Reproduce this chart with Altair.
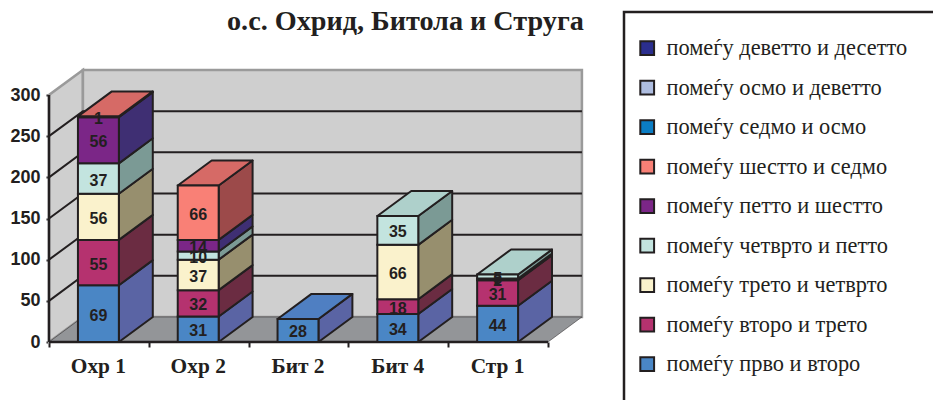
import altair as alt
import pandas as pd

# ---- values ----
categories = ["Охр 1", "Охр 2", "Бит 2", "Бит 4", "Стр 1"]
series_names = [
    "помеѓу прво и второ",
    "помеѓу второ и трето",
    "помеѓу трето и четврто",
    "помеѓу четврто и петто",
    "помеѓу петто и шестто",
    "помеѓу шестто и седмо",
    "помеѓу седмо и осмо",
    "помеѓу осмо и деветто",
    "помеѓу деветто и десетто",
]
s1 = [69, 31, 28, 34, 44]
s2 = [55, 32, 0, 18, 31]
s3 = [56, 37, 0, 66, 2]
s4 = [37, 10, 0, 35, 5]
s5 = [56, 14, 0, 0, 0]
s6 = [1, 66, 0, 0, 0]
s7 = [0, 0, 0, 0, 0]
s8 = [0, 0, 0, 0, 0]
s9 = [0, 0, 0, 0, 0]
all_series = [s1, s2, s3, s4, s5, s6, s7, s8, s9]
y_ticks = [0, 50, 100, 150, 200, 250, 300]

# ---- styles ----
front_colors = ["#4a86c5", "#b5326f", "#faf2cc", "#c3e4df", "#7b2687", "#f98076", "#0b7dc4", "#aebde0", "#2b2e8e"]
side_colors = ["#5a64a4", "#6b2c42", "#978f6e", "#7b9a95", "#3f2f73", "#9c4a4a", "#0a5c90", "#7f8ba6", "#1f2168"]
top_colors = ["#4f7fc2", "#93305f", "#d0caa8", "#aed0cb", "#66307a", "#d66a66", "#0a6aa8", "#95a3c4", "#25277a"]
INK = "#231f20"
WALL = "#cfcfcf"
WALL_EDGE = "#9a9a9a"
FLOOR = "#939598"
SERIF = "Liberation Serif"
SANS = "Liberation Sans"

# ---- geometry of the fake 3D box, in scale units ----
W, H = 925, 392
X_UNIT = 99.8            # px per category
Y_UNIT = 247 / 300       # px per value
ORIGIN_X, ORIGIN_Y = 41, 334
DX = 0.34                # depth in category units
DY = 30.4                # depth in value units
BAR = 0.41
n = len(categories)

x_scale = alt.Scale(domain=[-ORIGIN_X / X_UNIT, (W - ORIGIN_X) / X_UNIT], nice=False, zero=False)
y_scale = alt.Scale(domain=[-(H - ORIGIN_Y) / Y_UNIT, ORIGIN_Y / Y_UNIT], nice=False, zero=False)


def para(group, fill, x0, low0, x1, low1, hi0, hi1):
    """Two-point band: (x0, low0..hi0) to (x1, low1..hi1)."""
    return [
        dict(g=group, fill=fill, x=x0, y=low0, y2=hi0),
        dict(g=group, fill=fill, x=x1, y=low1, y2=hi1),
    ]


walls, fronts, faces, labels = [], [], [], []
walls += para("left", WALL, 0, 0, DX, DY, y_ticks[-1], y_ticks[-1] + DY)
walls += para("back", WALL, DX, DY, n + DX, DY, y_ticks[-1] + DY, y_ticks[-1] + DY)

floor = para("floor", FLOOR, 0, 0, DX, DY, 0, DY)[:1]
floor += [
    dict(g="floor", fill=FLOOR, x=DX, y=0, y2=DY),
    dict(g="floor", fill=FLOOR, x=n, y=0, y2=DY),
    dict(g="floor", fill=FLOOR, x=n + DX, y=DY, y2=DY),
]

grid = []
for v in y_ticks[1:-1]:
    grid.append(dict(g=f"s{v}", x=0, y=v))
    grid.append(dict(g=f"s{v}", x=DX, y=v + DY))
    grid.append(dict(g=f"s{v}", x=n + DX, y=v + DY))

for i, cat in enumerate(categories):
    base = 0
    xl = i + 0.5 - BAR / 2 - 0.005
    xr = xl + BAR
    top_idx = None
    for k, vals in enumerate(all_series):
        v = vals[i]
        if v == 0:
            continue
        top_idx = k
        fronts.append(dict(series=series_names[k], x=xl, x2=xr, y=base, y2=base + v))
        faces += para(f"side{i}-{k}", side_colors[k], xr, base, xr + DX, base + DY, base + v, base + v + DY)
        labels.append(dict(x=(xl + xr) / 2, y=base + v / 2, text=str(v)))
        base += v
    g = f"top{i}"
    c = top_colors[top_idx]
    faces += [
        dict(g=g, fill=c, x=xl, y=base, y2=base),
        dict(g=g, fill=c, x=xl + DX, y=base, y2=base + DY),
        dict(g=g, fill=c, x=xr, y=base, y2=base + DY),
        dict(g=g, fill=c, x=xr + DX, y=base + DY, y2=base + DY),
    ]

labels_x = "[" + ",".join(f"'{c}'" for c in categories) + ",''][datum.value]"
x_axis = alt.Axis(
    values=list(range(n + 1)), labelExpr=labels_x, offset=-(H - ORIGIN_Y), domain=False, grid=False,
    tickSize=5, tickWidth=2, tickColor=INK, labelFont=SERIF, labelFontWeight="bold", labelFontSize=21.4,
    labelColor=INK, labelOffset=X_UNIT / 2 - 1, labelPadding=8, labelOverlap=False, labelFlush=False,
)
y_axis = alt.Axis(
    values=y_ticks, orient="left", offset=-ORIGIN_X, domain=False, grid=False, tickSize=3, tickWidth=2,
    tickColor=INK, labelFont=SANS, labelFontWeight="bold", labelFontSize=18, labelColor=INK,
    labelPadding=6, labelOverlap=False, labelFlush=False,
)
X = alt.X("x:Q", scale=x_scale, axis=x_axis, title=None)
Y = alt.Y("y:Q", scale=y_scale, axis=y_axis, title=None, stack=None)


def band(rows, **kw):
    return alt.Chart(pd.DataFrame(rows)).mark_area(**kw).encode(
        x=X, y=Y, y2="y2:Q", detail="g:N", fill=alt.Fill("fill:N", scale=None)
    )


wall_layer = band(walls, stroke=WALL_EDGE, strokeWidth=2.5)
floor_layer = band(floor, stroke=INK, strokeWidth=0.5)
grid_layer = alt.Chart(pd.DataFrame(grid)).mark_line(color=INK, strokeWidth=2).encode(x=X, y=Y, detail="g:N")
face_layer = band(faces, stroke=INK, strokeWidth=2, strokeJoin="round")

front_axis = alt.Chart(pd.DataFrame({
    "x": [0, 0, 0, n], "y": [0, y_ticks[-1], 0, 0], "g": ["a", "a", "b", "b"],
})).mark_line(color=INK, strokeWidth=2.5).encode(x=X, y=Y, detail="g:N")

front_layer = alt.Chart(pd.DataFrame(fronts)).mark_rect(stroke=INK, strokeWidth=2).encode(
    x=X, x2="x2:Q", y=Y, y2="y2:Q",
    color=alt.Color(
        "series:N",
        scale=alt.Scale(domain=series_names, range=front_colors),
        sort=series_names[::-1],
        legend=alt.Legend(
            title=None, orient="none", legendX=628, legendY=29, symbolType="square", symbolSize=190,
            symbolStrokeColor=INK, symbolStrokeWidth=2, symbolOpacity=1, labelFont=SERIF, labelFontSize=22.4,
            labelColor=INK, labelLimit=320, rowPadding=16.5, columns=1, labelOffset=8,
            values=series_names[::-1],
        ),
    ),
)
label_layer = alt.Chart(pd.DataFrame(labels)).mark_text(
    font=SANS, fontSize=16, fontWeight="bold", color=INK, baseline="middle", dy=2
).encode(x=X, y=Y, text="text:N")

box_rows = [dict(x=(624 - 8 - ORIGIN_X) / X_UNIT, x2=(W - ORIGIN_X) / X_UNIT + 1,
                 y=(ORIGIN_Y - (12 - 8)) / Y_UNIT, y2=-(H - ORIGIN_Y) / Y_UNIT - 20)]
box_layer = alt.Chart(pd.DataFrame(box_rows)).mark_rect(fill="white", stroke=INK, strokeWidth=2.5, clip=False).encode(
    x=X, x2="x2:Q", y=Y, y2="y2:Q"
)

chart = alt.layer(
    wall_layer, floor_layer, grid_layer, front_axis, box_layer, face_layer, front_layer, label_layer
).resolve_scale(fill="independent").properties(
    width=W, height=H, padding=0, autosize=alt.AutoSizeParams(type="none"),
    title=alt.TitleParams(
        "о.с. Охрид, Битола и Струга", anchor="start", dx=219, offset=-28, font=SERIF, fontSize=28.2,
        fontWeight="bold", color=INK,
    ),
).configure_view(stroke=None)

chart.save("out.html", embed_options={"renderer": "svg", "actions": False})
